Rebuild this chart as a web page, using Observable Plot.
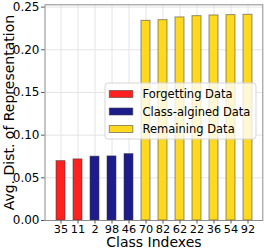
<!DOCTYPE html>
<html>
<head>
<meta charset="utf-8">
<script src="https://cdn.jsdelivr.net/npm/d3@7"></script>
<script src="https://cdn.jsdelivr.net/npm/@observablehq/plot@0.6"></script>
<style>
  html, body { margin: 0; padding: 0; background: white; }
  #chart { width: 265px; height: 252px; }
</style>
</head>
<body>
<div id="chart"></div>
<script>
const classes = ["35", "11", "2", "98", "46", "70", "82", "62", "22", "36", "54", "92"];
const values = [0.0696, 0.0716, 0.0748, 0.0751, 0.0778, 0.2339, 0.2347, 0.2379, 0.2394, 0.2402, 0.2406, 0.2410];
const groups = ["Forgetting Data", "Forgetting Data", "Class-algined Data", "Class-algined Data", "Class-algined Data",
  "Remaining Data", "Remaining Data", "Remaining Data", "Remaining Data", "Remaining Data", "Remaining Data", "Remaining Data"];
const seriesNames = ["Forgetting Data", "Class-algined Data", "Remaining Data"];
const seriesColors = ["#ff2020", "#1c1c8c", "#ffd920"];
const yTicks = [0, 0.05, 0.10, 0.15, 0.20, 0.25];
const xLabel = "Class Indexes";
const yLabel = "Avg. Dist. of Representation";

const data = classes.map((c, i) => ({cls: c, v: values[i], group: groups[i]}));

const W = 265, H = 252;
const mL = 44.5, mR = 2.7, mT = 4.3, mB = 32;

const chart = Plot.plot({
  width: W, height: H,
  marginLeft: mL, marginRight: mR, marginTop: mT, marginBottom: mB,
  style: {fontFamily: "DejaVu Sans", fontSize: "12px", color: "#000", background: "white"},
  x: {domain: classes, paddingInner: 0.5, paddingOuter: 0.585, label: null},
  y: {domain: [0, 0.2527], label: null},
  color: {domain: seriesNames, range: seriesColors},
  marks: [
    Plot.gridX(classes, {stroke: "#e4e4e4", strokeOpacity: 1, strokeWidth: 1}),
    Plot.gridY(yTicks, {stroke: "#e4e4e4", strokeOpacity: 1, strokeWidth: 1}),
    Plot.barY(data, {x: "cls", y: "v", fill: "group", stroke: "#3a3a3a", strokeOpacity: 0.55, strokeWidth: 1, insetLeft: 0, insetRight: 0}),
    Plot.frame({stroke: "#8c8c8c", strokeWidth: 1}),
    Plot.axisX({tickSize: 3.5, tickPadding: 1, fontSize: 11.3, stroke: "#555", label: null}),
    Plot.axisY({ticks: yTicks, tickFormat: d3.format(".2f"), tickSize: 3.5, tickPadding: 2, fontSize: 12, stroke: "#555", label: null}),
    Plot.text([xLabel], {frameAnchor: "bottom", text: d => d, dy: 22, lineAnchor: "middle", fontSize: 14, fill: "#000"}),
    Plot.text([yLabel], {frameAnchor: "left", text: d => d, dx: -35, rotate: -90, textAnchor: "middle", lineAnchor: "middle", fontSize: 14, fill: "#000"})
  ]
});

document.getElementById("chart").appendChild(chart);

// Legend inside plot area
const svg = d3.select(chart);
const lg = svg.append("g").attr("font-family", "DejaVu Sans").attr("font-size", "11.5px").attr("text-anchor", "start");
lg.append("rect").attr("x", 105).attr("y", 83).attr("width", 151).attr("height", 56)
  .attr("rx", 3).attr("fill", "white").attr("fill-opacity", 0.8).attr("stroke", "#d6d6d6");
const rows = [94, 111.5, 129];
seriesNames.forEach((name, i) => {
  lg.append("rect").attr("x", 109.3).attr("y", rows[i] - 3.5).attr("width", 23.5).attr("height", 7)
    .attr("fill", seriesColors[i]).attr("stroke", "#3a3a3a").attr("stroke-opacity", 0.55);
  lg.append("text").attr("x", 142.5).attr("y", rows[i]).attr("dy", "0.36em").attr("fill", "#000")
    .attr("text-anchor", "start").text(name);
});
</script>
</body>
</html>
